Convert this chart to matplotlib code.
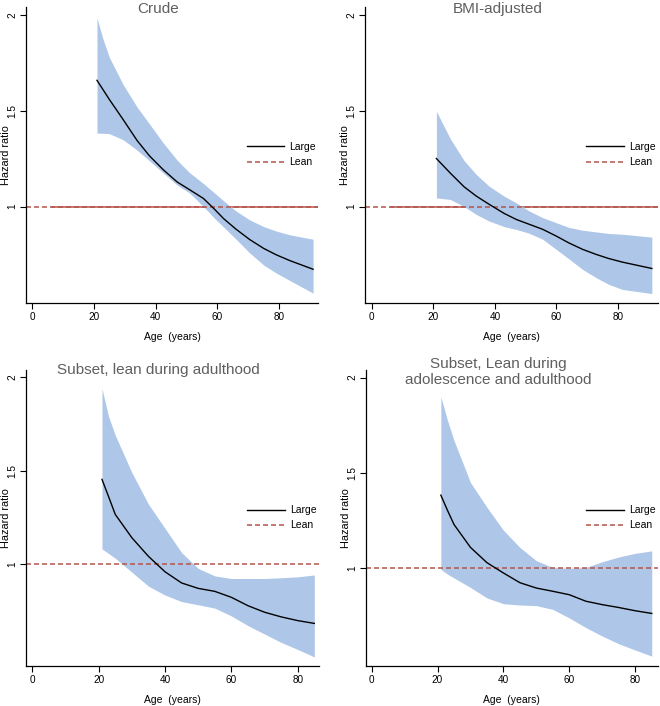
import matplotlib
matplotlib.use("Agg")
import matplotlib.pyplot as plt
from matplotlib.lines import Line2D

plt.rcParams['font.family'] = ['Liberation Sans Narrow', 'Liberation Sans', 'DejaVu Sans']
plt.rcParams['lines.scale_dashes'] = False

# ---- data ----
age_crude = [21, 23, 25, 29.5, 34, 38, 42.5, 47, 51, 55.5, 59, 62, 66, 70.5, 75, 79, 83.5, 91]
crude_hr = [1.66, 1.61, 1.56, 1.454, 1.345, 1.265, 1.192, 1.128, 1.088, 1.042, 0.987, 0.937,
            0.882, 0.827, 0.781, 0.748, 0.717, 0.672]
crude_hi = [1.986, 1.873, 1.78, 1.637, 1.52, 1.432, 1.332, 1.242, 1.177, 1.12, 1.072, 1.03,
            0.977, 0.93, 0.895, 0.872, 0.852, 0.829]
crude_lo = [1.384, 1.383, 1.381, 1.349, 1.295, 1.239, 1.175, 1.112, 1.071, 1.0, 0.94, 0.893,
            0.83, 0.757, 0.694, 0.653, 0.613, 0.547]

age_bmi = [21, 25.5, 30, 34, 38, 43, 47, 51, 55.5, 60, 64, 68.5, 73, 77, 81.5, 91]
bmi_hr = [1.251, 1.175, 1.103, 1.054, 1.013, 0.964, 0.932, 0.908, 0.881, 0.845, 0.81, 0.776,
          0.749, 0.728, 0.709, 0.676]
bmi_hi = [1.498, 1.355, 1.24, 1.167, 1.108, 1.054, 1.019, 0.978, 0.942, 0.915, 0.891, 0.876,
          0.867, 0.859, 0.855, 0.84]
bmi_lo = [1.045, 1.037, 1.0, 0.958, 0.925, 0.895, 0.88, 0.861, 0.829, 0.775, 0.727, 0.671,
          0.627, 0.593, 0.566, 0.545]

age_sub = [21, 23, 25, 30, 35, 40, 45, 50, 55, 60, 65, 70, 75, 80, 85]
adult_hr = [1.453, 1.36, 1.265, 1.14, 1.04, 0.957, 0.897, 0.868, 0.852, 0.82, 0.775, 0.74,
            0.715, 0.695, 0.68]
adult_hi = [1.94, 1.79, 1.69, 1.49, 1.32, 1.19, 1.06, 0.975, 0.935, 0.921, 0.921, 0.921,
            0.925, 0.93, 0.94]
adult_lo = [1.08, 1.055, 1.03, 0.955, 0.88, 0.832, 0.797, 0.78, 0.762, 0.72, 0.668, 0.623,
            0.578, 0.54, 0.50]

both_hr = [1.384, 1.305, 1.23, 1.11, 1.03, 0.976, 0.925, 0.897, 0.88, 0.862, 0.828, 0.81,
           0.795, 0.778, 0.764]
both_hi = [1.90, 1.777, 1.67, 1.45, 1.32, 1.20, 1.11, 1.04, 1.005, 1.0, 1.005, 1.035, 1.06,
           1.079, 1.092]
both_lo = [0.995, 0.97, 0.95, 0.90, 0.845, 0.815, 0.808, 0.805, 0.785, 0.74, 0.69, 0.645,
           0.605, 0.572, 0.54]

titles = ["Crude", "BMI-adjusted", "Subset, lean during adulthood",
          "Subset, Lean during\nadolescence and adulthood"]
x_ticks = [0, 20, 40, 60, 80]
y_ticks = [1, 1.5, 2]
y_tick_labels = ["1", "1.5", "2"]
legend_labels = ["Large", "Lean"]
ref_value = 1.0

FILL = '#aec7e8'
REF = '#b5544a'
TITLE_C = '#5f5f5f'

fig = plt.figure(figsize=(6.6, 7.06), dpi=100)
W, H = 660.0, 706.0


def make_ax(l, r, t, b):
    return fig.add_axes([l / W, 1 - b / H, (r - l) / W, (b - t) / H])


panels = [
    dict(box=(26, 318.3, 6.7, 302.7), x=age_crude, hr=crude_hr, hi=crude_hi, lo=crude_lo,
         xlim=(-2.0, 92.7), ylim=(0.497, 2.045), solid_from=6.3, ty=0.9916),
    dict(box=(365, 658, 6.7, 302.7), x=age_bmi, hr=bmi_hr, hi=bmi_hi, lo=bmi_lo,
         xlim=(-2.2, 93.0), ylim=(0.497, 2.045), solid_from=6.3, ty=0.9916),
    dict(box=(26, 319.3, 370, 665.7), x=age_sub, hr=adult_hr, hi=adult_hi, lo=adult_lo,
         xlim=(-1.9, 86.5), ylim=(0.453, 2.04), solid_from=None, ty=1.0),
    dict(box=(365.7, 658, 370, 665.7), x=age_sub, hr=both_hr, hi=both_hi, lo=both_lo,
         xlim=(-1.8, 86.9), ylim=(0.49, 2.04), solid_from=None, ty=0.993),
]

dash = (0, (5.0 * 0.72, 3.0 * 0.72))

for p, title in zip(panels, titles):
    ax = make_ax(*p['box'])
    x0, x1 = p['xlim']
    if p['solid_from'] is not None:
        ax.plot([p['solid_from'], x1], [ref_value, ref_value], color=REF, lw=1.1, zorder=0.5)
    ax.fill_between(p['x'], p['lo'], p['hi'], color=FILL, lw=0, zorder=1)
    ax.plot([x0, x1], [ref_value, ref_value], color=REF, lw=1.1, linestyle=dash, zorder=2)
    ax.plot(p['x'], p['hr'], color='black', lw=1.0, zorder=3)
    ax.set_xlim(*p['xlim'])
    ax.set_ylim(*p['ylim'])
    ax.spines['top'].set_visible(False)
    ax.spines['right'].set_visible(False)
    for s in ('left', 'bottom'):
        ax.spines[s].set_linewidth(0.9)
        ax.spines[s].set_color('black')
    ax.set_xticks(x_ticks)
    ax.set_yticks(y_ticks)
    ax.set_yticklabels(y_tick_labels, rotation=90, va='center')
    ax.tick_params(axis='both', length=4, width=0.8, labelsize=7.2, colors='black')
    ax.tick_params(axis='x', pad=3)
    ax.tick_params(axis='y', pad=2)
    ax.set_xlabel("Age  (years)", fontsize=7.5, labelpad=7)
    ax.set_ylabel("Hazard ratio", fontsize=7.8)
    axw = p['box'][1] - p['box'][0]
    ax.yaxis.set_label_coords(-15.0 / axw, 0.5)
    ax.text(0.452, p['ty'], title, transform=ax.transAxes,
            ha='center', va='center', fontsize=11, color=TITLE_C,
            family=['Liberation Sans', 'DejaVu Sans'], linespacing=1.15, clip_on=False)
    handles = [Line2D([], [], color='black', lw=1.0),
               Line2D([], [], color=REF, lw=1.1, linestyle=dash)]
    ax.legend(handles, legend_labels, loc='center left', bbox_to_anchor=(0.755, 0.5),
              frameon=False, fontsize=7.5, handlelength=3.6, handletextpad=0.5,
              borderpad=0, borderaxespad=0, labelspacing=0.5)

fig.savefig("out.png", dpi=100, facecolor='white')
